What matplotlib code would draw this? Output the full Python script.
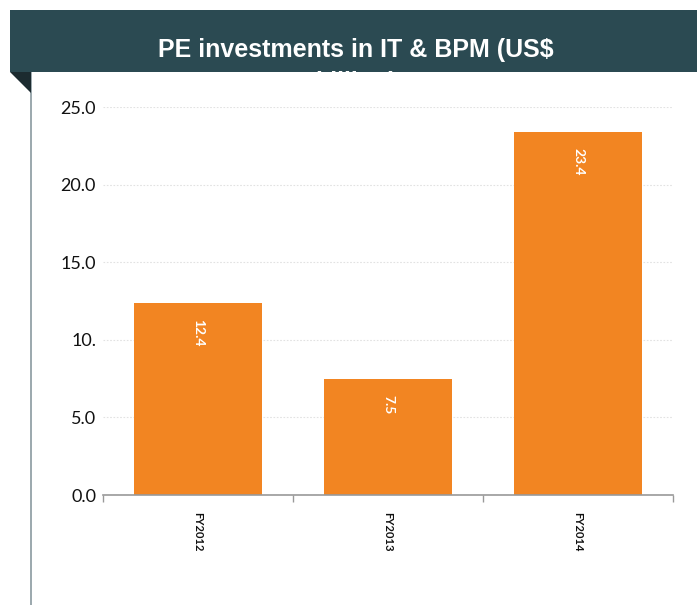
import matplotlib
matplotlib.use("Agg")
import matplotlib.pyplot as plt
from matplotlib.patches import Rectangle, Polygon
from matplotlib.lines import Line2D

categories = ["FY2012", "FY2013", "FY2014"]
values = [12.4, 7.5, 23.4]
value_labels = ["12.4", "7.5", "23.4"]
yticks = [0, 5, 10, 15, 20, 25]
ytick_labels = ["0.0", "5.0", "10.", "15.0", "20.0", "25.0"]
title = "PE investments in IT & BPM (US$\nbillion)"

W, H = 697, 605
fig = plt.figure(figsize=(W / 100, H / 100), dpi=100)
fig.patch.set_facecolor("white")

def fx(x):
    return x / W

def fy(y):
    return 1 - y / H

# Header band
band = Rectangle((fx(10), fy(72)), 1 - fx(10), fy(10) - fy(72),
                 transform=fig.transFigure, facecolor="#2B4A52",
                 edgecolor="none", zorder=1)
fig.patches.append(band)
tri = Polygon([(fx(10), fy(72)), (fx(31), fy(72)), (fx(31), fy(93))],
              closed=True, transform=fig.transFigure, facecolor="#1C2B30",
              edgecolor="none", zorder=1)
fig.patches.append(tri)
fig.lines.append(Line2D([fx(31), fx(31)], [fy(72), 0], transform=fig.transFigure,
                        color="#8A9AA0", lw=1.2, zorder=1))

t = fig.text(fx(356), fy(38), title, ha="center", va="top", color="white",
             fontsize=18, fontweight="bold", family="Liberation Sans",
             linespacing=1.45, zorder=2)
t.set_clip_path(band)

ax = fig.add_axes([fx(103), fy(495), fx(673) - fx(103), fy(107) - fy(495)])
x = list(range(len(categories)))
bars = ax.bar(x, values, width=0.67, color="#F28522", zorder=2)
ax.set_xlim(-0.5, len(categories) - 0.5)
ax.set_ylim(0, 25)
ax.set_yticks(yticks)
ax.set_yticklabels(ytick_labels, family="Lato", fontsize=13, color="#111111")
ax.tick_params(axis="y", length=0, pad=5)
ax.grid(axis="y", color="#E2E2E2", lw=0.8, ls=(0, (1.5, 1.5)), zorder=0)
ax.set_axisbelow(True)

ax.set_xticks([i - 0.5 for i in range(len(categories) + 1)])
ax.set_xticklabels([])
ax.set_xticks(x, minor=True)
ax.set_xticklabels(categories, minor=True, rotation=270, fontsize=8,
                   color="#111111", family="Lato", fontweight="bold")
ax.tick_params(axis="x", which="major", length=5, color="#999999", width=1)
ax.tick_params(axis="x", which="minor", length=0, pad=12)

for s in ["top", "right", "left"]:
    ax.spines[s].set_visible(False)
ax.spines["bottom"].set_color("#999999")
ax.spines["bottom"].set_linewidth(1.2)

for xi, v, lab in zip(x, values, value_labels):
    ax.annotate(lab, (xi, v), xytext=(0, -12), textcoords="offset points",
                ha="center", va="top", rotation=270, color="white",
                fontsize=10, family="Lato", fontweight="bold", zorder=3)

fig.savefig("out.png", dpi=100)
